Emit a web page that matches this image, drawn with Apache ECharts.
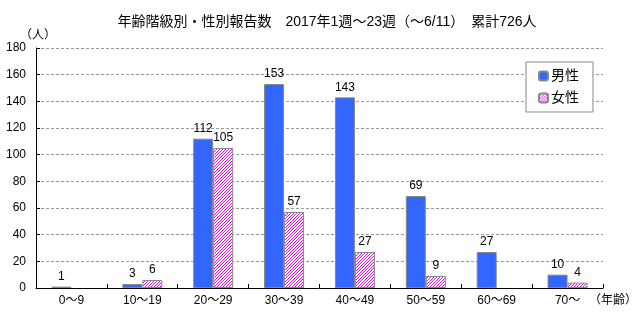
<!DOCTYPE html>
<html>
<head>
<meta charset="utf-8">
<script src="https://cdn.jsdelivr.net/npm/echarts@6/dist/echarts.min.js"></script>
<style>
html,body{margin:0;padding:0;background:#fff;}
#chart{width:640px;height:324px;}
</style>
</head>
<body>
<div id="chart"></div>
<script>
// Reported cases by age group and sex, 2017 weeks 1–23
const titleText = '年齢階級別・性別報告数　2017年1週～23週（～6/11）　累計726人';
const categories = ['0～9', '10～19', '20～29', '30～39', '40～49', '50～59', '60～69', '70～'];
const maleCounts = [1, 3, 112, 153, 143, 69, 27, 10];
const femaleCounts = [0, 6, 105, 57, 27, 9, 0, 4];
const yTicks = { min: 0, max: 180, interval: 20 };

const FONT = '"Liberation Sans", "Noto Sans CJK JP", sans-serif';

// crisp one-pixel diagonal hatch for the female bars
function hatchPattern() {
  const n = 3;
  const c = document.createElement('canvas');
  c.width = n; c.height = n;
  const g = c.getContext('2d');
  g.fillStyle = '#ffffff';
  g.fillRect(0, 0, n, n);
  g.fillStyle = '#ff00ff';
  for (let i = 0; i < n; i++) g.fillRect(i, n - 1 - i, 1, 1);
  return c;
}

const chart = echarts.init(document.getElementById('chart'), null, { renderer: 'canvas' });
const labelCfg = {
  show: true,
  position: 'top',
  distance: 4,
  color: '#000',
  fontSize: 12,
  fontFamily: FONT,
  formatter: p => (p.value ? String(p.value) : '')
};

chart.setOption({
  animation: false,
  backgroundColor: '#fff',
  title: {
    text: titleText,
    left: 322,
    textAlign: 'center',
    top: 10,
    textStyle: { fontSize: 14, fontWeight: 'normal', color: '#000', fontFamily: FONT }
  },
  legend: {
    orient: 'vertical',
    left: 526,
    top: 62,
    padding: [7, 14, 7, 12],
    itemGap: 8,
    itemWidth: 9,
    itemHeight: 9,
    backgroundColor: '#fff',
    borderColor: '#888',
    borderWidth: 1,
    textStyle: { fontSize: 14, color: '#000', fontFamily: FONT, padding: [0, 0, 0, -2] },
    data: ['男性', '女性']
  },
  grid: { left: 36, right: 33, top: 48, bottom: 36 },
  xAxis: {
    type: 'category',
    data: categories,
    name: '（年齢）',
    nameLocation: 'end',
    nameGap: -14,
    nameTextStyle: { fontSize: 12, color: '#000', fontFamily: FONT, align: 'left', verticalAlign: 'top', padding: [7, 0, 0, 0] },
    axisLine: { lineStyle: { color: '#000', width: 1 } },
    axisTick: { show: true, inside: true, length: 4, lineStyle: { color: '#000' } },
    axisLabel: { color: '#000', fontSize: 12, fontFamily: FONT, margin: 7 }
  },
  yAxis: {
    type: 'value',
    min: yTicks.min,
    max: yTicks.max,
    interval: yTicks.interval,
    name: '（人）',
    nameLocation: 'end',
    nameGap: 1,
    nameTextStyle: { fontSize: 12, color: '#000', fontFamily: FONT, align: 'center', padding: [0, 0, 0, 4] },
    axisLine: { show: true, lineStyle: { color: '#000', width: 1 } },
    axisTick: { show: true, inside: true, length: 4, lineStyle: { color: '#000' } },
    axisLabel: { color: '#000', fontSize: 12, fontFamily: FONT, margin: 10 },
    splitLine: { show: true, lineStyle: { color: '#999', type: [3, 2], width: 1 } }
  },
  series: [
    {
      name: '男性',
      type: 'bar',
      data: maleCounts,
      barWidth: 20,
      barGap: '0%',
      itemStyle: { color: '#3366ff', borderColor: '#888', borderWidth: 1 },
      label: labelCfg
    },
    {
      name: '女性',
      type: 'bar',
      data: femaleCounts.map(v => (v === 0 ? '-' : v)),
      barWidth: 20,
      barGap: '0%',
      itemStyle: { color: { image: hatchPattern(), repeat: 'repeat' }, borderColor: '#888', borderWidth: 1 },
      label: labelCfg
    }
  ]
});
</script>
</body>
</html>
